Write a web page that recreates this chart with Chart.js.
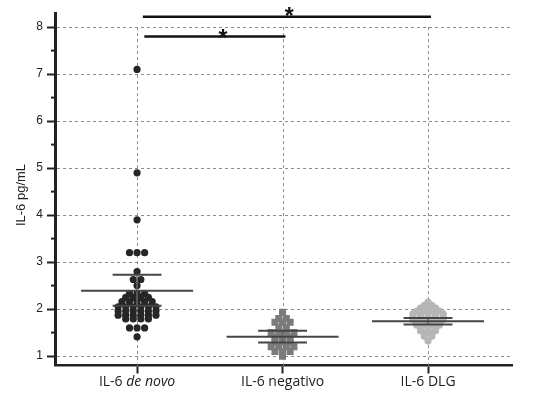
<!doctype html>
<html lang="en">
<head>
<meta charset="utf-8">
<title>IL-6 pg/mL</title>
<style>
  html, body { margin: 0; padding: 0; background: #fff; }
  #chart { display: block; }
</style>
</head>
<body>
<canvas id="chart" width="541" height="395"></canvas>
<script src="https://cdn.jsdelivr.net/npm/chart.js"></script>
<script>
// groups and the part of each label written in italics
const groups = ['IL-6 de novo', 'IL-6 negativo', 'IL-6 DLG'];
const italicPart = ['de novo', '', ''];

// individual values (pg/mL)
const deNovo = [7.1, 4.9, 3.9, 3.2, 3.2, 3.2, 2.8, 2.63, 2.63, 2.5,
  2.33, 2.33, 2.33, 2.25, 2.25, 2.25, 2.25, 2.16, 2.16, 2.16, 2.16, 2.16,
  2.05, 2.05, 2.05, 2.05, 2.05, 2.05, 1.96, 1.96, 1.96, 1.96, 1.96, 1.96,
  1.87, 1.87, 1.87, 1.87, 1.87, 1.87, 1.79, 1.79, 1.79, 1.79,
  1.6, 1.6, 1.6, 1.41];
const negativo = [1.93, 1.8, 1.8, 1.72, 1.72, 1.72, 1.6, 1.6, 1.5, 1.5, 1.5, 1.5,
  1.4, 1.4, 1.4, 1.3, 1.3, 1.3, 1.2, 1.2, 1.2, 1.2, 1.1, 1.1, 1.1, 1.0];
const dlg = [2.15, 2.08, 2.08, 2.02, 2.02, 2.02, 1.96, 1.96, 1.96, 1.96,
  1.9, 1.9, 1.9, 1.9, 1.9, 1.84, 1.84, 1.84, 1.84, 1.84,
  1.78, 1.78, 1.78, 1.78, 1.78, 1.72, 1.72, 1.72, 1.72,
  1.66, 1.66, 1.66, 1.66, 1.6, 1.6, 1.6, 1.54, 1.54, 1.54,
  1.48, 1.48, 1.42, 1.42, 1.32];

// mean and error bar ends
const means = [2.39, 1.41, 1.74];
const upper = [2.73, 1.54, 1.81];
const lower = [2.07, 1.29, 1.67];

// significance bars
const sigFrom = [1.04, 1.05];
const sigTo = [3.02, 2.02];
const sigLevel = [8.22, 7.8];
const sigStarX = [2.045, 1.59];
const sigStarY = [8.35, 7.88];

const yTicks = [1, 2, 3, 4, 5, 6, 7, 8];

const colors = ['#262626', '#7b7b7b', '#b6b6b6'];
const styles = ['circle', 'rect', 'circle'];
const radii = [3.6, 5, 3.6];

// spread equal values side by side like a dot plot
function swarm(values, pos, step) {
  const counts = {};
  const seen = {};
  values.forEach(v => counts[v] = (counts[v] || 0) + 1);
  return values.map(v => {
    seen[v] = seen[v] === undefined ? 0 : seen[v] + 1;
    return { x: pos + (seen[v] - (counts[v] - 1) / 2) * step, y: v };
  });
}

function segment(x1, y1, x2, y2, color, width) {
  return {
    data: [{ x: x1, y: y1 }, { x: x2, y: y2 }],
    showLine: true,
    borderColor: color,
    borderWidth: width,
    pointRadius: 0,
    order: 0
  };
}

const datasets = [];
[deNovo, negativo, dlg].forEach((vals, i) => {
  datasets.push({
    data: swarm(vals, i + 1, 0.052),
    pointStyle: styles[i],
    pointRadius: radii[i],
    backgroundColor: colors[i],
    borderColor: colors[i],
    borderWidth: 0,
    order: 1
  });
});
groups.forEach((g, i) => {
  const p = i + 1;
  datasets.push(segment(p - 0.385, means[i], p + 0.385, means[i], '#454545', 2));
  datasets.push(segment(p - 0.168, upper[i], p + 0.168, upper[i], '#454545', 2));
  datasets.push(segment(p - 0.168, lower[i], p + 0.168, lower[i], '#454545', 2));
  datasets.push(segment(p, lower[i], p, upper[i], '#6a6a6a', 1.5));
});
sigLevel.forEach((lv, i) => {
  datasets.push(segment(sigFrom[i], lv, sigTo[i], lv, '#111', 2.5));
});

const textPlugin = {
  id: 'texts',
  beforeDatasetsDraw(chart) {
    // vertical grid lines only run up to the top major tick
    const { ctx, scales: { x, y } } = chart;
    ctx.save();
    ctx.strokeStyle = '#8c8c8c';
    ctx.lineWidth = 1;
    ctx.setLineDash([3, 3]);
    groups.forEach((g, i) => {
      const px = Math.round(x.getPixelForValue(i + 1)) + 0.5;
      ctx.beginPath();
      ctx.moveTo(px, y.getPixelForValue(yTicks[yTicks.length - 1]));
      ctx.lineTo(px, y.bottom);
      ctx.stroke();
    });
    ctx.restore();
  },
  afterDraw(chart) {
    const { ctx, scales: { x, y } } = chart;
    ctx.save();
    // minor ticks on the y axis
    ctx.strokeStyle = '#222';
    ctx.lineWidth = 2;
    yTicks.slice(0, -1).forEach(t => {
      const py = y.getPixelForValue(t + 0.5);
      ctx.beginPath();
      ctx.moveTo(x.left - 4, py);
      ctx.lineTo(x.left, py);
      ctx.stroke();
    });

    ctx.fillStyle = '#222';
    ctx.textBaseline = 'middle';
    ctx.textAlign = 'left';
    const normalFont = '14px "Open Sans"';
    const italicFont = 'italic 14px "Open Sans"';
    groups.forEach((g, i) => {
      const it = italicPart[i];
      const plain = it ? g.slice(0, g.length - it.length) : g;
      ctx.font = normalFont;
      const w1 = ctx.measureText(plain).width;
      ctx.font = italicFont;
      const w2 = it ? ctx.measureText(it).width : 0;
      const cx = x.getPixelForValue(i + 1);
      let sx = cx - (w1 + w2) / 2;
      ctx.font = normalFont;
      ctx.fillText(plain, sx, 382);
      if (it) {
        ctx.font = italicFont;
        ctx.fillText(it, sx + w1, 382);
      }
    });

    // y axis title
    ctx.save();
    ctx.translate(21, 195);
    ctx.rotate(-Math.PI / 2);
    ctx.textAlign = 'center';
    ctx.font = '13px "Liberation Sans"';
    ctx.fillText('IL-6 pg/mL', 0, 0);
    ctx.restore();

    // significance stars
    ctx.textAlign = 'center';
    ctx.textBaseline = 'alphabetic';
    ctx.font = 'bold 23px "Liberation Sans"';
    ctx.fillStyle = '#111';
    sigStarX.forEach((sx, i) => {
      ctx.fillText('*', x.getPixelForValue(sx), y.getPixelForValue(sigStarY[i]) + 13);
    });
    ctx.restore();
  }
};

new Chart(document.getElementById('chart'), {
  type: 'scatter',
  data: { datasets },
  options: {
    responsive: false,
    animation: false,
    devicePixelRatio: 1,
    layout: { padding: { top: 13, right: 29, left: 0, bottom: 0 } },
    plugins: { legend: { display: false }, tooltip: { enabled: false } },
    scales: {
      x: {
        type: 'linear',
        min: 0.436,
        max: 3.577,
        afterBuildTicks: s => { s.ticks = groups.map((g, i) => ({ value: i + 1 })); },
        afterFit: s => { s.height = 29.5; },
        ticks: { callback: () => '' },
        grid: {
          drawOnChartArea: false,
          tickLength: 8,
          tickColor: '#222',
          tickWidth: 2,
          tickBorderDash: []
        },
        border: { color: '#222', width: 2.5 }
      },
      y: {
        min: 0.8,
        max: 8.3,
        afterBuildTicks: s => { s.ticks = yTicks.map(v => ({ value: v })); },
        afterFit: s => { s.width = 55; },
        ticks: {
          color: '#222',
          padding: 4,
          font: { family: 'Liberation Sans', size: 12 }
        },
        grid: {
          color: '#8c8c8c',
          lineWidth: 1,
          tickLength: 8,
          tickColor: '#222',
          tickWidth: 2,
          tickBorderDash: []
        },
        border: { color: '#222', width: 3, dash: [3, 3] }
      }
    }
  },
  plugins: [textPlugin]
});
</script>
</body>
</html>
